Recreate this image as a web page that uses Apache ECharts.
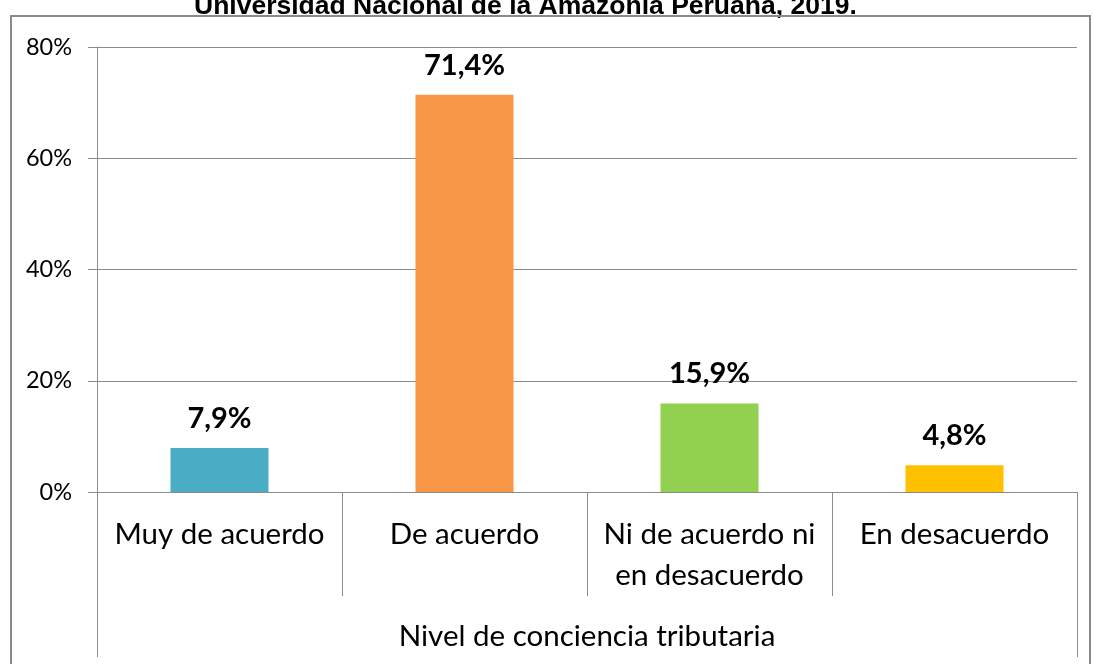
<!DOCTYPE html>
<html>
<head>
<meta charset="utf-8">
<script src="https://cdn.jsdelivr.net/npm/echarts@6/dist/echarts.min.js"></script>
<style>
  html, body { margin: 0; padding: 0; background: #fff; }
  #chart { width: 1094px; height: 664px; }
</style>
</head>
<body>
<div id="chart"></div>
<script>
const titleText = 'Universidad Nacional de la Amazonía Peruana, 2019.';
const categories = ['Muy de acuerdo', 'De acuerdo', 'Ni de acuerdo ni\nen desacuerdo', 'En desacuerdo'];
const values = [7.9, 71.4, 15.9, 4.8];
const barColors = ['#4BACC6', '#F79646', '#92D050', '#FFC000'];
const groupLabel = ['Nivel de conciencia tributaria'];
const yTicks = [0, 20, 40, 60, 80];

const font = 'Lato, "Open Sans", sans-serif';
const lineColor = '#8c8c8c';

const chart = echarts.init(document.getElementById('chart'));
chart.setOption({
  animation: false,
  textStyle: { fontFamily: font, color: '#000' },
  title: {
    text: titleText,
    left: 189,
    top: -12,
    textStyle: { fontFamily: 'Liberation Sans, Arial, sans-serif', fontSize: 26.5, fontWeight: 'bold', color: '#000' },
  },
  graphic: [
    {
      type: 'rect',
      shape: { x: 11, y: 16, width: 1079, height: 660 },
      style: { fill: 'none', stroke: '#8a8a8a', lineWidth: 2 },
      z: 100,
    },
  ],
  grid: { left: 97, right: 17, top: 47, bottom: 172 },
  xAxis: [
    {
      type: 'category',
      data: categories,
      axisLine: { lineStyle: { color: lineColor } },
      axisTick: { show: true, interval: 0, length: 104, lineStyle: { color: lineColor } },
      axisLabel: { interval: 0, margin: 22, fontSize: 29.5, lineHeight: 41, color: '#000', fontFamily: font },
    },
    {
      type: 'category',
      position: 'bottom',
      data: groupLabel,
      axisLine: { show: false },
      axisTick: { show: true, interval: 0, length: 165, lineStyle: { color: lineColor } },
      axisLabel: { margin: 129, fontSize: 29.5, lineHeight: 30, color: '#000', fontFamily: font },
    },
  ],
  yAxis: {
    type: 'value',
    min: yTicks[0],
    max: yTicks[yTicks.length - 1],
    interval: 20,
    axisLine: { show: true, lineStyle: { color: lineColor } },
    axisTick: { show: true, length: 9, lineStyle: { color: lineColor } },
    splitLine: { lineStyle: { color: lineColor } },
    axisLabel: { formatter: '{value}%', fontSize: 23.5, color: '#000', margin: 25, fontFamily: font },
  },
  series: [
    {
      type: 'bar',
      xAxisIndex: 0,
      barWidth: '40%',
      data: values.map((v, i) => ({ value: v, itemStyle: { color: barColors[i] } })),
      label: {
        show: true,
        position: 'top',
        distance: 15,
        fontSize: 29,
        fontWeight: 'bold',
        color: '#000',
        fontFamily: font,
        formatter: (p) => p.value.toFixed(1).replace('.', ',') + '%',
      },
    },
  ],
});
</script>
</body>
</html>
